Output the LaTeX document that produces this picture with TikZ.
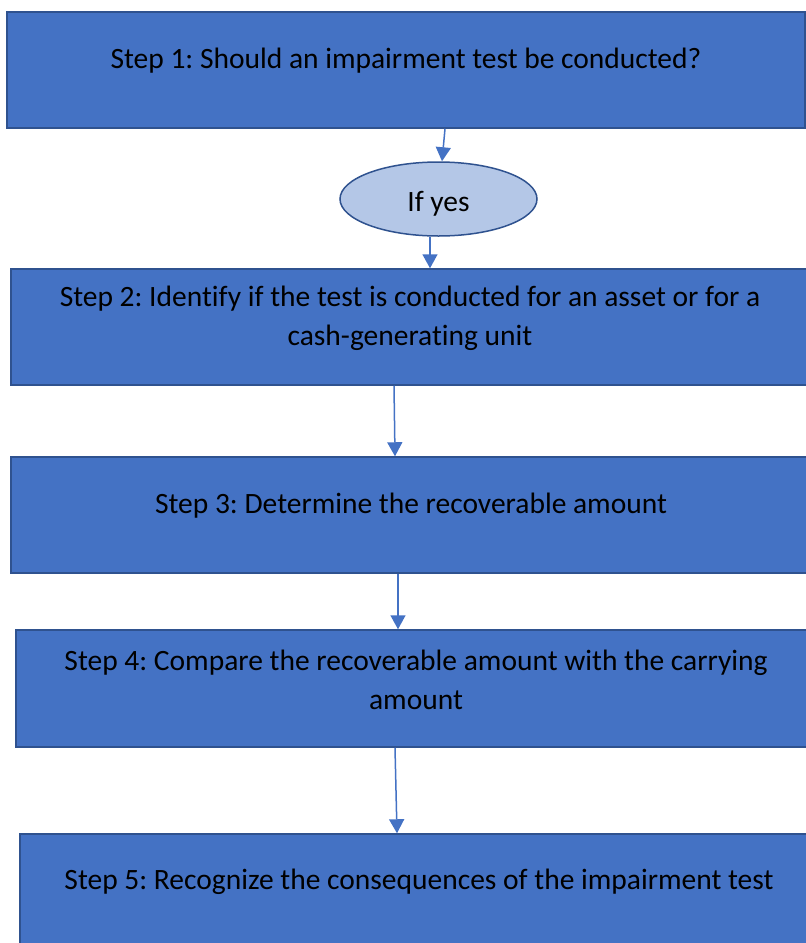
\documentclass[tikz,border=0pt]{standalone}
\usepackage{fontspec}
\setmainfont{Carlito}[Ligatures=CommonOff]
\usetikzlibrary{arrows.meta,shapes.geometric}

\definecolor{boxblue}{HTML}{4472C4}
\definecolor{edgeblue}{HTML}{2F528F}
\definecolor{paleblue}{HTML}{B4C7E7}

\tikzset{
	stepbox/.style={draw=edgeblue, line width=1.5pt, fill=boxblue, rectangle, inner sep=0pt},
	steptext/.style={font=\fontsize{29.5}{39}\selectfont, align=center, text=black, inner sep=0pt},
	flow/.style={draw=boxblue, line width=1.5pt, -{Triangle[width=15pt,length=14pt]}}
}

\begin{document}
\frenchspacing
\begin{tikzpicture}[x=1pt, y=-1pt]
				\useasboundingbox (0,0) rectangle (806,943);
				\clip (0,0) rectangle (806,943);
				
				% Boxes (2 to 5 run past the right edge)
				\node[stepbox, minimum width=798pt, minimum height=116pt] (s1) at (406,70) {};
				\node[steptext] (t1) at ([yshift=9pt]s1.center) {Step 1: Should an impairment test be conducted?};
				
				\node[ellipse, draw=edgeblue, line width=1.5pt, fill=paleblue, minimum width=197pt, minimum height=74pt, inner sep=0pt, text height=25pt, text depth=0pt, font=\fontsize{29.5}{39}\selectfont] (yes) at (438.5,199) {If yes};
				
				\node[stepbox, minimum width=798pt, minimum height=116pt] (s2) at (410,327) {};
				\node[steptext] (t2) at ([yshift=9pt]s2.center) {Step 2: Identify if the test is conducted for an asset or for a\\cash-generating unit};
				
				\node[stepbox, minimum width=800pt, minimum height=116pt] (s3) at (411,515) {};
				\node[steptext] (t3) at ([yshift=9pt]s3.center) {Step 3: Determine the recoverable amount};
				
				\node[stepbox, minimum width=800pt, minimum height=117pt] (s4) at (416,688.5) {};
				\node[steptext] (t4) at ([yshift=9pt]s4.center) {Step 4: Compare the recoverable amount with the carrying\\amount};
				
				\node[stepbox, minimum width=798pt, minimum height=114pt] (s5) at (419,891) {};
				\node[steptext] (t5) at ([yshift=9pt]s5.center) {Step 5: Recognize the consequences of the impairment test};
				
				% Arrows
				\draw[flow] (s1.south -| 445,0) -- (yes.north -| 442,0);
				\draw[flow] (yes.south -| 430,0) -- (s2.north -| 430,0);
				\draw[flow] (s2.south -| 394,0) -- (s3.north -| 395,0);
				\draw[flow] (s3.south -| 398,0) -- (s4.north -| 398,0);
				\draw[flow] (s4.south -| 395,0) -- (s5.north -| 397,0);
			\end{tikzpicture}
\end{document}
